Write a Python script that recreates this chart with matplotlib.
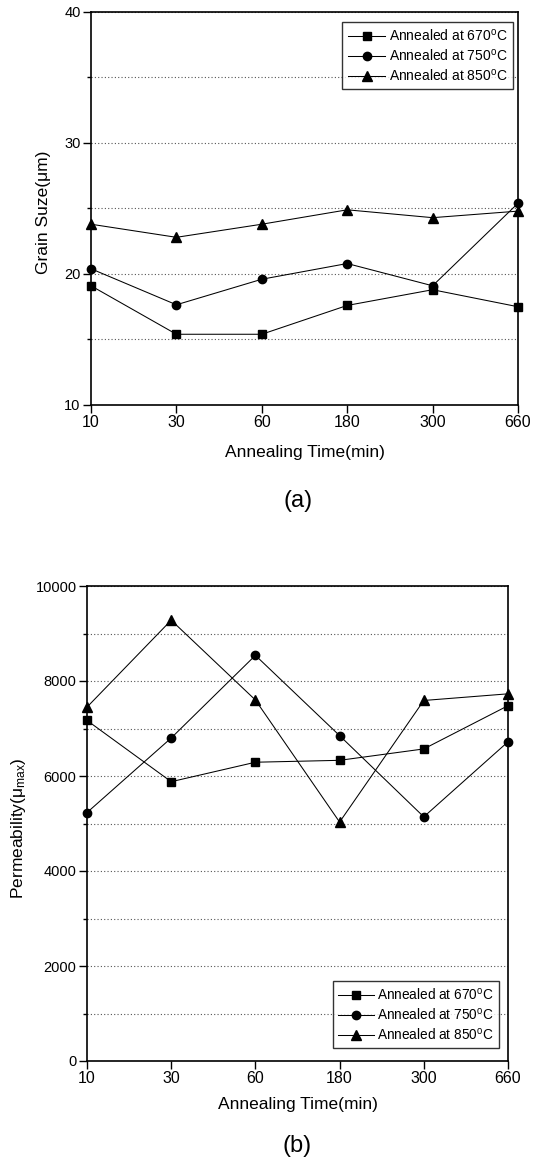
import matplotlib
matplotlib.use("Agg")
import matplotlib.pyplot as plt
from matplotlib.ticker import MultipleLocator

plt.rcParams['font.family'] = ['Liberation Sans', 'DejaVu Sans']
plt.rcParams['mathtext.fontset'] = 'custom'
plt.rcParams['mathtext.rm'] = 'Liberation Sans'
plt.rcParams['mathtext.it'] = 'Liberation Sans:italic'

times = ['10', '30', '60', '180', '300', '660']
labels = [r'Annealed at 670$^{\mathregular{o}}$C',
          r'Annealed at 750$^{\mathregular{o}}$C',
          r'Annealed at 850$^{\mathregular{o}}$C']

grain_670 = [19.1, 15.4, 15.4, 17.6, 18.8, 17.5]
grain_750 = [20.4, 17.65, 19.6, 20.8, 19.1, 25.4]
grain_850 = [23.8, 22.8, 23.8, 24.9, 24.3, 24.8]

perm_670 = [7170, 5880, 6290, 6330, 6570, 7480]
perm_750 = [5230, 6800, 8540, 6850, 5140, 6720]
perm_850 = [7450, 9280, 7600, 5030, 7590, 7730]

markers = ['s', 'o', '^']
msizes = [5.5, 6.0, 6.5]

W, H = 534, 1161
fig = plt.figure(figsize=(W/100, H/100), dpi=100)
# top panel: left 91, right 518, top 12, bottom 405
axA = fig.add_axes([91/W, 1-405/H, 427/W, 393/H])
# bottom panel: left 87, right 508, top 586, bottom 1061
axB = fig.add_axes([87/W, 1-1061/H, 421/W, 475/H])

x = list(range(len(times)))

def style(ax):
    for s in ax.spines.values():
        s.set_linewidth(1.2)
        s.set_color('black')
    ax.tick_params(axis='x', direction='out', length=5.5, width=1, labelsize=11.5, pad=2)
    ax.tick_params(axis='y', which='major', direction='out', length=5.5, width=1, labelsize=10.5, pad=2)
    ax.tick_params(axis='y', which='minor', direction='out', length=3, width=1)
    ax.set_xticks(x)
    ax.set_xticklabels(times)
    ax.set_xlim(0, len(times)-1)
    ax.grid(axis='y', which='both', linestyle=(0, (1, 2)), color='#555555', linewidth=0.8)
    ax.set_axisbelow(True)

for series, m, ms, lab in zip([grain_670, grain_750, grain_850], markers, msizes, labels):
    axA.plot(x, series, marker=m, color='black', markersize=ms, linewidth=0.75, label=lab, clip_on=False, zorder=3)
style(axA)
axA.set_ylim(10, 40)
axA.yaxis.set_major_locator(MultipleLocator(10))
axA.yaxis.set_minor_locator(MultipleLocator(5))
axA.set_ylabel('Grain Suze(μm)', fontsize=12.5, va='center', ha='center')
axA.yaxis.set_label_coords(-0.1124, 0.49)
axA.set_xlabel('Annealing Time(min)', fontsize=12.5, va='center', ha='center')
axA.xaxis.set_label_coords(0.5, -(453-405)/393)
legA = axA.legend(loc='upper right', bbox_to_anchor=(0.988, 0.975), fontsize=10, frameon=True,
                  fancybox=False, edgecolor='black', handlelength=2.7, borderpad=0.4,
                  labelspacing=0.3, handletextpad=0.25, borderaxespad=0)
legA.get_frame().set_linewidth(1.0)

for series, m, ms, lab in zip([perm_670, perm_750, perm_850], markers, msizes, labels):
    axB.plot(x, series, marker=m, color='black', markersize=ms, linewidth=0.75, label=lab, clip_on=False, zorder=3)
style(axB)
axB.set_ylim(0, 10000)
axB.yaxis.set_major_locator(MultipleLocator(2000))
axB.yaxis.set_minor_locator(MultipleLocator(1000))
axB.set_ylabel(r'Permeability($\mathregular{μ_{max}}$)', fontsize=12.5, va='center', ha='center')
axB.yaxis.set_label_coords(-(87-19)/421, 0.49)
axB.set_xlabel('Annealing Time(min)', fontsize=12.5, va='center', ha='center')
axB.xaxis.set_label_coords(0.5, -(1105-1061)/475)
legB = axB.legend(loc='lower right', bbox_to_anchor=(0.979, 0.027), fontsize=9.8, frameon=True,
                  fancybox=False, edgecolor='black', handlelength=2.6, borderpad=0.4,
                  labelspacing=0.3, handletextpad=0.25, borderaxespad=0)
legB.get_frame().set_linewidth(1.0)

fig.text(298/W, 1-501/H, '(a)', ha='center', va='center', fontsize=17)
fig.text(297/W, 1-1146/H, '(b)', ha='center', va='center', fontsize=17)

fig.savefig('out.png', dpi=100)
